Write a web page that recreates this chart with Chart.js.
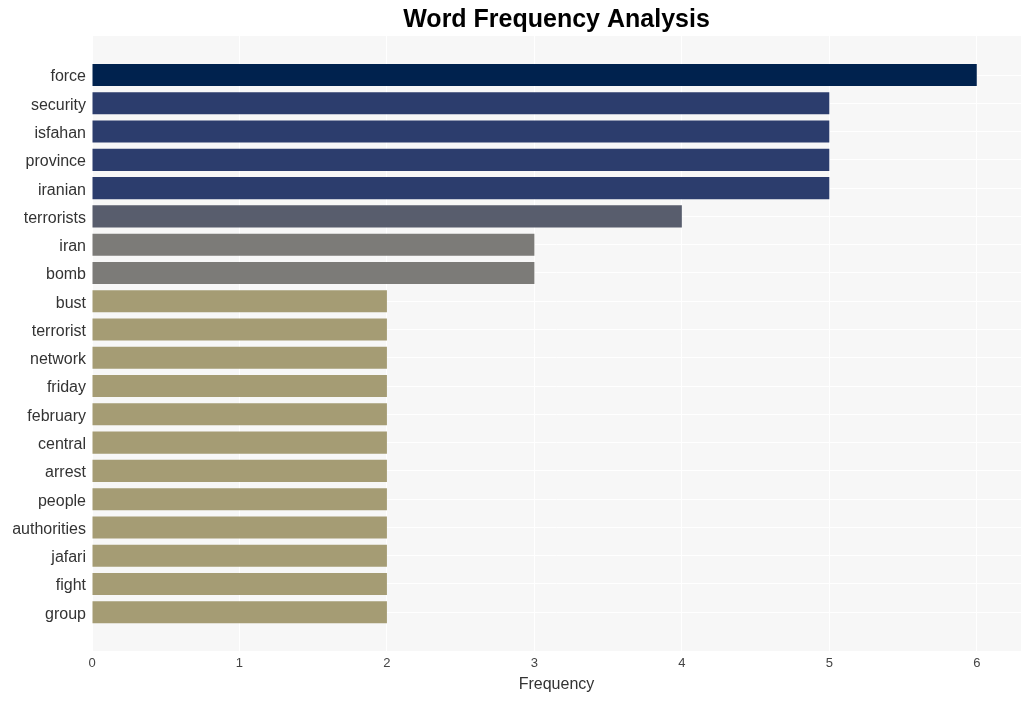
<!DOCTYPE html>
<html>
<head>
    <title>Word Frequency Analysis</title>
    <script src="https://cdn.jsdelivr.net/npm/chart.js"></script>
    <style>
        html, body { margin: 0; padding: 0; background: #fff; }
        #wrap { width: 1031px; height: 701px; }
    </style>
</head>
<body>
<div id="wrap"><canvas id="chart"></canvas></div>
<script>
    const words = ["force", "security", "isfahan", "province", "iranian", "terrorists", "iran", "bomb",
        "bust", "terrorist", "network", "friday", "february", "central", "arrest", "people",
        "authorities", "jafari", "fight", "group"];
    const counts = [6, 5, 5, 5, 5, 4, 3, 3, 2, 2, 2, 2, 2, 2, 2, 2, 2, 2, 2, 2];
    const xTicks = [0, 1, 2, 3, 4, 5, 6];

    // colour by count (cividis-like)
    const shade = { 6: "#00224e", 5: "#2c3d6d", 4: "#585d6d", 3: "#7c7b78", 2: "#a59c74" };

    const plotBg = {
        id: "plotBg",
        beforeDraw(chart) {
            const a = chart.chartArea;
            const ctx = chart.ctx;
            ctx.save();
            ctx.fillStyle = "#f7f7f7";
            ctx.fillRect(a.left, a.top, a.right - a.left, a.bottom - a.top);
            ctx.restore();
        }
    };

    const ctx = document.getElementById("chart").getContext("2d");
    new Chart(ctx, {
        type: "bar",
        data: {
            datasets: [{
                data: counts.map((c, i) => ({ x: c, y: i })),
                backgroundColor: counts.map(c => shade[c]),
                barPercentage: 0.78,
                categoryPercentage: 1
            }]
        },
        options: {
            indexAxis: "y",
            responsive: true,
            maintainAspectRatio: false,
            animation: false,
            layout: { padding: { left: 0, right: 10, top: 0, bottom: 0 } },
            plugins: {
                legend: { display: false },
                tooltip: { enabled: false },
                title: {
                    display: true,
                    text: "Word Frequency Analysis",
                    fullSize: false,
                    color: "#000",
                    font: { family: "Liberation Sans, Arial, sans-serif", size: 25, weight: "bold", lineHeight: 1.2 },
                    padding: { top: 5, bottom: 1 }
                }
            },
            scales: {
                x: {
                    type: "linear",
                    min: 0,
                    max: 6.3,
                    afterBuildTicks: s => { s.ticks = xTicks.map(v => ({ value: v })); },
                    afterFit: s => { s.height = 50; },
                    grid: { color: "#ffffff", lineWidth: 1, drawTicks: false },
                    border: { display: false },
                    ticks: {
                        color: "#444",
                        padding: 5,
                        font: { family: "Liberation Sans, Arial, sans-serif", size: 13 }
                    },
                    title: {
                        display: true,
                        text: "Frequency",
                        color: "#333",
                        padding: { top: 2, bottom: 7 },
                        font: { family: "Liberation Sans, Arial, sans-serif", size: 16 }
                    }
                },
                y: {
                    type: "linear",
                    reverse: true,
                    offset: false,
                    min: -1.38,
                    max: 20.37,
                    afterBuildTicks: s => { s.ticks = words.map((w, i) => ({ value: i })); },
                    afterFit: s => { s.width = 92; },
                    grid: { color: "#ffffff", lineWidth: 1, drawTicks: false, offset: false },
                    border: { display: false },
                    ticks: {
                        color: "#333",
                        padding: 6,
                        labelOffset: 2,
                        autoSkip: false,
                        font: { family: "Liberation Sans, Arial, sans-serif", size: 16 },
                        callback: v => words[v]
                    }
                }
            }
        },
        plugins: [plotBg]
    });
</script>
</body>
</html>
